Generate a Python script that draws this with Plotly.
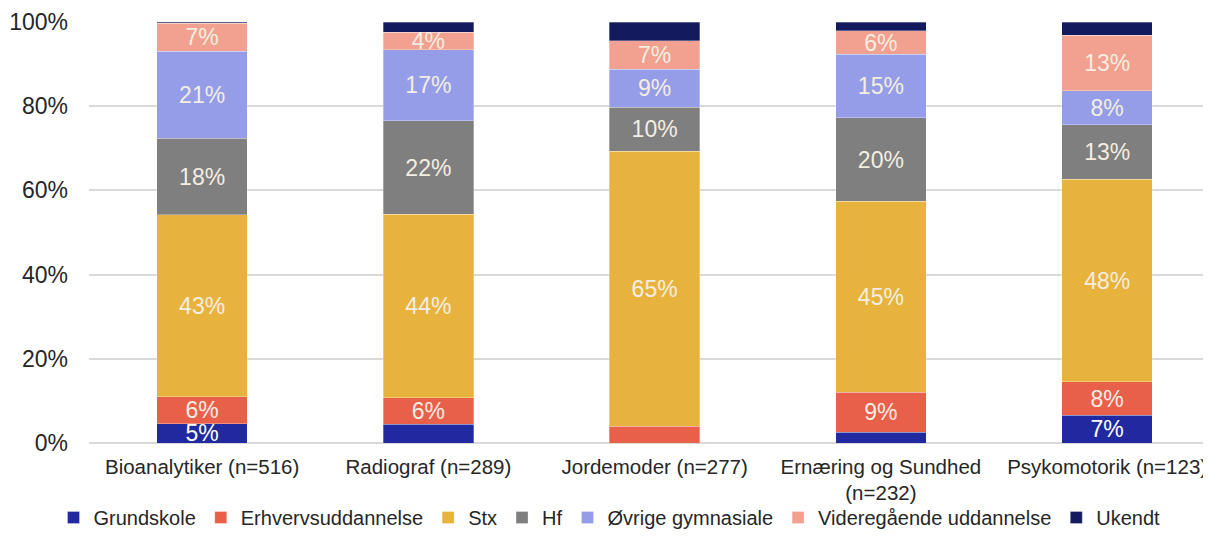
import plotly.graph_objects as go

categories = ["Bioanalytiker (n=516)", "Radiograf (n=289)", "Jordemoder (n=277)",
              "Ernæring og Sundhed<br>(n=232)", "Psykomotorik (n=123)"]

grundskole = [4.6, 4.4, 0.0, 2.6, 6.6]
erhverv = [6.4, 6.3, 4.0, 9.4, 7.9]
stx = [43.2, 43.6, 65.3, 45.4, 48.1]
hf = [18.2, 22.2, 10.4, 19.8, 13.0]
oevrige = [20.6, 16.9, 9.1, 15.1, 8.1]
videre = [6.7, 4.2, 6.8, 5.6, 13.1]
ukendt = [0.3, 2.4, 4.4, 2.1, 3.2]

y_ticks = [0, 20, 40, 60, 80, 100]
y_ticktext = ["0%", "20%", "40%", "60%", "80%", "100%"]

# which segments carry a data label in the original
grundskole_show = [True, False, False, False, True]
erhverv_show = [True, True, False, True, True]
all_show = [True] * 5
none_show = [False] * 5

series = [
    ("Grundskole", grundskole, "#2129A0", grundskole_show, "#FFFFFF"),
    ("Erhvervsuddannelse", erhverv, "#E9604A", erhverv_show, "#F4EEE2"),
    ("Stx", stx, "#E8B33C", all_show, "#F4EEE2"),
    ("Hf", hf, "#7F7F7F", all_show, "#F4EEE2"),
    ("Øvrige gymnasiale", oevrige, "#959DE8", all_show, "#F4EEE2"),
    ("Videregående uddannelse", videre, "#F2A08F", all_show, "#F4EEE2"),
    ("Ukendt", ukendt, "#141A5E", none_show, "#FFFFFF"),
]

fig = go.Figure()
for name, vals, color, show, tcol in series:
    fig.add_trace(go.Bar(
        name=name,
        x=categories,
        y=vals,
        marker=dict(color=color, line=dict(color="rgba(255,255,255,0.5)", width=0.6)),
        text=[f"{int(v + 0.5)}%" if s else "" for v, s in zip(vals, show)],
        textposition="inside",
        insidetextanchor="middle",
        constraintext="none",
        textangle=0,
        textfont=dict(family="Liberation Sans, Arial", size=23, color=tcol),
        hoverinfo="skip",
    ))

# the page body has an 8px default margin, so the figure is 8px smaller
fig.update_layout(
    barmode="stack",
    bargap=0.6,
    width=1203,
    height=529,
    margin=dict(l=81, r=0, t=14, b=94, autoexpand=False),
    plot_bgcolor="white",
    paper_bgcolor="white",
    font=dict(family="Liberation Sans, Arial", color="#262626"),
    xaxis=dict(
        range=[-0.5, 4.459],
        tickfont=dict(size=20.5),
        showline=False,
        showgrid=False,
        ticks="",
        ticklabelstandoff=9,
    ),
    yaxis=dict(
        range=[0, 100],
        tickmode="array",
        tickvals=y_ticks,
        ticktext=y_ticktext,
        tickfont=dict(size=23),
        showgrid=True,
        gridcolor="#D9D9D9",
        gridwidth=1.5,
        zeroline=True,
        zerolinecolor="#D9D9D9",
        zerolinewidth=1.5,
        ticklen=0,
        ticklabelstandoff=20,
    ),
    legend=dict(
        orientation="h",
        x=0.5,
        xref="container",
        xanchor="center",
        y=-0.024,
        yref="container",
        yanchor="bottom",
        bgcolor="rgba(0,0,0,0)",
        font=dict(size=20),
        itemwidth=30,
        traceorder="normal",
        tracegroupgap=0,
    ),
    showlegend=True,
)

fig.write_html("out.html")
